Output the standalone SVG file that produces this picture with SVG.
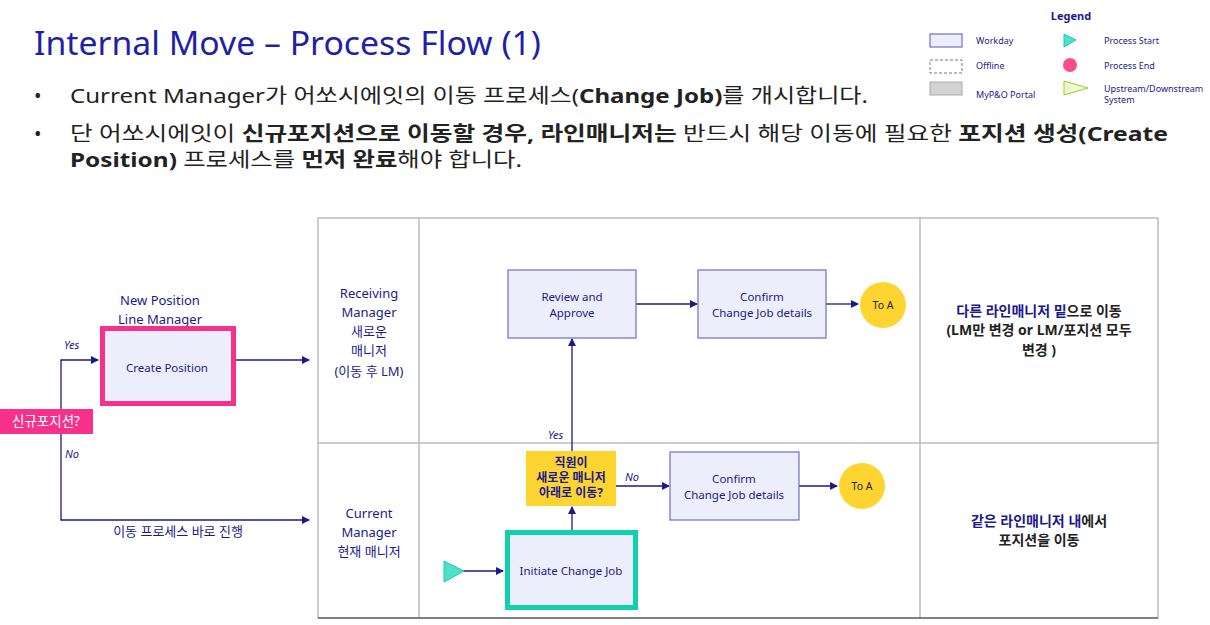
<svg xmlns="http://www.w3.org/2000/svg" width="1210" height="625" viewBox="0 0 1210 625">
<style>
text{font-family:"Noto Sans","Noto Sans CJK KR",sans-serif;fill:#1a1a8c}
.box{fill:#eceefc;stroke:#6f6fc8;stroke-width:1.2}
.lane{fill:none;stroke:#bdbdbd;stroke-width:1.5}
.c{stroke:#1a1a8c;stroke-width:1.3;fill:none}
.s{font-size:11.5px}
.it{font-style:italic;font-size:11px}
.b{font-weight:bold}
</style>
<defs><marker id="a" markerWidth="8" markerHeight="8" refX="7" refY="4" orient="auto" markerUnits="userSpaceOnUse"><path d="M0,0L8,4L0,8Z" fill="#1a1a8c"/></marker></defs>
<rect width="1210" height="625" fill="#fff"/>
<text x="34" y="55" textLength="507" lengthAdjust="spacingAndGlyphs" style="font-size:32px;fill:#1f1fa8">Internal Move – Process Flow (1)</text>
<g style="font-size:20px">
<text x="34" y="103" style="fill:#222">•</text>
<text x="70" y="103" textLength="798" lengthAdjust="spacingAndGlyphs" style="fill:#222">Current Manager가 어쏘시에잇의 이동 프로세스(<tspan class="b" style="fill:#222">Change Job)</tspan>를 개시합니다.</text>
<text x="34" y="141" style="fill:#222">•</text>
<text x="70" y="141" textLength="1098" lengthAdjust="spacingAndGlyphs" style="fill:#222">단 어쏘시에잇이 <tspan class="b" style="fill:#222">신규포지션으로 이동할 경우, 라인매니저는</tspan> 반드시 해당 이동에 필요한 <tspan class="b" style="fill:#222">포지션 생성(Create</tspan></text>
<text x="70" y="167" textLength="452" lengthAdjust="spacingAndGlyphs" style="fill:#222"><tspan class="b" style="fill:#222">Position)</tspan> 프로세스를 <tspan class="b" style="fill:#222">먼저 완료</tspan>해야 합니다.</text>
</g>
<g id="legend" style="font-size:9px">
<text x="1071" y="20" class="b" text-anchor="middle" style="font-size:11px">Legend</text>
<rect x="930" y="34" width="32" height="13" class="box"/>
<text x="976" y="44">Workday</text>
<rect x="930" y="60" width="32" height="13" fill="none" stroke="#777" stroke-dasharray="3,2"/>
<text x="976" y="69">Offline</text>
<rect x="930" y="82" width="32" height="13" fill="#d3d3d3" stroke="#aaa"/>
<text x="976" y="98">MyP&amp;O Portal</text>
<path d="M1064,34L1076,40L1064,47Z" fill="#4fe0c8" stroke="#20c8a8"/>
<circle cx="1070" cy="65" r="7" fill="#f94d8e"/>
<path d="M1064,81L1088,88L1064,95Z" fill="#eafbd0" stroke="#9ccc30"/>
<text x="1104" y="44">Process Start</text>
<text x="1104" y="69">Process End</text>
<text x="1104" y="92">Upstream/Downstream</text>
<text x="1104" y="103">System</text>
</g>
<g id="lanes">
<rect x="318" y="218" width="840" height="400" class="lane"/>
<line x1="419" y1="218" x2="419" y2="618" class="lane"/>
<line x1="920" y1="218" x2="920" y2="618" class="lane"/>
<line x1="318" y1="443" x2="1158" y2="443" class="lane"/>
<line x1="318" y1="618" x2="1158" y2="618" stroke="#666" stroke-width="1.5"/>
<g text-anchor="middle" style="font-size:13px">
<text x="369" y="298">Receiving</text><text x="369" y="317">Manager</text><text x="369" y="336">새로운</text><text x="369" y="355">매니저</text><text x="369" y="376">(이동 후 LM)</text>
<text x="369" y="518">Current</text><text x="369" y="537">Manager</text><text x="369" y="556">현재 매니저</text>
<g style="font-size:14px">
<text x="1039" y="316" class="b">다른 라인매니저 밑<tspan style="font-weight:bold;fill:#222">으로 이동</tspan></text>
<text x="1039" y="335" class="b" style="fill:#222">(LM만 변경 or LM/포지션 모두</text>
<text x="1039" y="355" class="b" style="fill:#222">변경 )</text>
<text x="1039" y="526" class="b">같은 라인매니저 내<tspan style="font-weight:bold;fill:#222">에서</tspan></text>
<text x="1039" y="545" class="b" style="fill:#222">포지션을 이동</text>
</g>
</g>
</g>
<g id="connectors">
<path d="M61,409V360H98" class="c" marker-end="url(#a)"/>
<path d="M236,360H309" class="c" marker-end="url(#a)"/>
<path d="M61,434V520H309" class="c" marker-end="url(#a)"/>
<path d="M636,304H697" class="c" marker-end="url(#a)"/>
<path d="M826,304H858" class="c" marker-end="url(#a)"/>
<path d="M572,452V339" class="c" marker-end="url(#a)"/>
<path d="M616,486H669" class="c" marker-end="url(#a)"/>
<path d="M799,486H837" class="c" marker-end="url(#a)"/>
<path d="M572,536V507" class="c" marker-end="url(#a)"/>
<path d="M463,571H503" class="c" marker-end="url(#a)"/>
<text x="64" y="349" class="it">Yes</text>
<text x="65" y="458" class="it">No</text>
<text x="548" y="439" class="it">Yes</text>
<text x="625" y="481" class="it">No</text>
<text x="178" y="536" text-anchor="middle" style="font-size:13px">이동 프로세스 바로 진행</text>
</g>
<g id="newpos" text-anchor="middle" style="font-size:13px"><text x="160" y="305">New Position</text><text x="160" y="324">Line Manager</text></g>
<g id="create"><rect x="102.5" y="328.5" width="131" height="75" fill="#eceefc" stroke="#f7308c" stroke-width="5"/><text x="167" y="372" class="s" text-anchor="middle">Create Position</text></g>
<g id="q1"><rect x="0" y="409" width="93" height="25" fill="#f7308c"/><text x="46" y="426" text-anchor="middle" style="font-size:13.5px;fill:#fff">신규포지션?</text></g>
<g id="review"><rect x="508" y="270" width="128" height="68" class="box"/><text x="572" y="301" class="s" text-anchor="middle">Review and</text><text x="572" y="317" class="s" text-anchor="middle">Approve</text></g>
<g id="confirm1"><rect x="698" y="270" width="128" height="68" class="box"/><text x="762" y="301" class="s" text-anchor="middle">Confirm</text><text x="762" y="317" class="s" text-anchor="middle">Change Job details</text></g>
<g id="toa1"><circle cx="883" cy="305" r="23" fill="#fdd430"/><text x="883" y="309" text-anchor="middle" style="fill:#222;font-size:10.5px">To A</text></g>
<g id="q2"><rect x="526" y="451" width="90" height="55" fill="#fdd430"/><g text-anchor="middle" style="font-size:12px"><text x="571" y="467" class="b">직원이</text><text x="571" y="482" class="b">새로운 매니저</text><text x="571" y="497" class="b">아래로 이동?</text></g></g>
<g id="confirm2"><rect x="670" y="452" width="129" height="68" class="box"/><text x="734" y="483" class="s" text-anchor="middle">Confirm</text><text x="734" y="499" class="s" text-anchor="middle">Change Job details</text></g>
<g id="toa2"><circle cx="862" cy="486" r="23" fill="#fdd430"/><text x="862" y="490" text-anchor="middle" style="fill:#222;font-size:10.5px">To A</text></g>
<g id="initiate"><rect x="507.5" y="532.5" width="128" height="75" fill="#eceefc" stroke="#10d0b0" stroke-width="5"/><text x="571" y="575" class="s" text-anchor="middle">Initiate Change Job</text></g>
<g id="start"><path d="M444,561L464,571L444,582Z" fill="#4fe0c8" stroke="#20c8a8"/></g>
</svg>
